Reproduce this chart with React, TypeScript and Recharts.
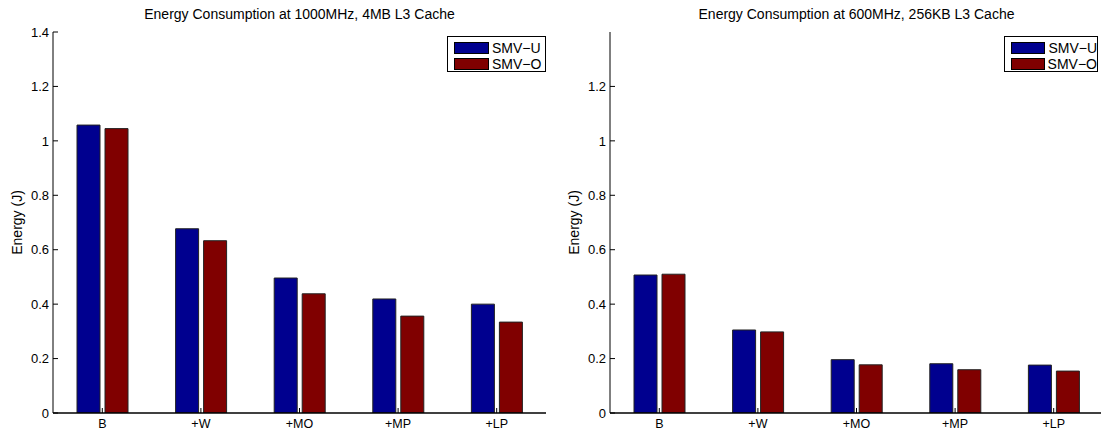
import React from 'react';
import { BarChart, Bar, XAxis, YAxis, Legend } from 'recharts';

const categories = ['B', '+W', '+MO', '+MP', '+LP'];
const seriesNames = ['SMV\u2212U', 'SMV\u2212O'];
const seriesColors = ['#00008F', '#800000'];

const leftTitle = 'Energy Consumption at 1000MHz, 4MB L3 Cache';
const leftSmvU = [1.058, 0.677, 0.496, 0.419, 0.4];
const leftSmvO = [1.045, 0.633, 0.438, 0.356, 0.334];
const leftTicks = [0, 0.2, 0.4, 0.6, 0.8, 1, 1.2, 1.4];

const rightTitle = 'Energy Consumption at 600MHz, 256KB L3 Cache';
const rightSmvU = [0.507, 0.305, 0.196, 0.181, 0.176];
const rightSmvO = [0.51, 0.298, 0.177, 0.159, 0.154];
const rightTicks = [0, 0.2, 0.4, 0.6, 0.8, 1, 1.2];

const yLabel = 'Energy (J)';
const FONT = '"Liberation Sans", Arial, Helvetica, sans-serif';

const buildData = (u: number[], o: number[]) =>
  categories.map((c, i) => ({ name: c, u: u[i], o: o[i] }));

const LeftTick = (props: any) => {
  const { x, y, payload } = props;
  const ax = x + 4;
  return (
    <g>
      <line x1={ax} x2={ax + 5} y1={y} y2={y} stroke="#000" strokeWidth={1} />
      <text x={x} y={y} dy="0.36em" textAnchor="end" fontSize={13} fill="#000" fontFamily={FONT}>
        {String(payload.value)}
      </text>
    </g>
  );
};

const RightTick = (props: any) => {
  const { x, y } = props;
  return <line x1={x - 5} x2={x} y1={y} y2={y} stroke="#000" strokeWidth={1} />;
};

const BottomTick = (props: any) => {
  const { x, y, payload } = props;
  const ay = y - 3;
  return (
    <g>
      <line x1={x} x2={x} y1={ay} y2={ay - 5} stroke="#000" strokeWidth={1} />
      <text x={x} y={y} dy={11.5} textAnchor="middle" fontSize={12.5} fill="#000" fontFamily={FONT}>
        {payload.value}
      </text>
    </g>
  );
};

const TopTick = (props: any) => {
  const { x, y } = props;
  return <line x1={x} x2={x} y1={y} y2={y + 5} stroke="#000" strokeWidth={1} />;
};

const LegendBox = ({ payload, width }: { payload: any[]; width: number }) => {
  const items = [...(payload || [])].sort(
    (a: any, b: any) => seriesNames.indexOf(a.value) - seriesNames.indexOf(b.value)
  );
  return (
    <div
      style={{
        boxSizing: 'border-box',
        width,
        height: 36,
        border: '1px solid #000',
        background: '#fff',
        paddingTop: 3,
        fontFamily: FONT,
      }}
    >
      {items.map((p: any, i: number) => (
        <div key={i} style={{ display: 'flex', alignItems: 'center', height: 16, paddingLeft: 6 }}>
          <div
            style={{
              boxSizing: 'border-box',
              width: 35,
              height: 12,
              background: p.color,
              border: '1px solid #000',
            }}
          />
          <span style={{ marginLeft: 3, fontSize: 14, lineHeight: '16px', color: '#000' }}>{p.value}</span>
        </div>
      ))}
    </div>
  );
};

type PanelProps = {
  title: string;
  u: number[];
  o: number[];
  ticks: number[];
  left: number;
  yAxisWidth: number;
  marginRight: number;
  legendLeft: number;
  legendWidth: number;
};

const CHART_W = 560;
const CHART_H = 430;

const Panel = (p: PanelProps) => {
  const data = buildData(p.u, p.o);
  const plotW = CHART_W - p.yAxisWidth - p.marginRight;
  return (
    <div style={{ position: 'absolute', left: p.left, top: 0, width: CHART_W, height: CHART_H }}>
      <div
        style={{
          position: 'absolute',
          left: p.yAxisWidth,
          top: 6,
          width: plotW,
          textAlign: 'center',
          fontSize: 14,
          lineHeight: '17px',
          fontFamily: FONT,
          color: '#000',
          whiteSpace: 'nowrap',
        }}
      >
        {p.title}
      </div>
      <BarChart
        width={CHART_W}
        height={CHART_H}
        data={data}
        margin={{ top: 32, right: p.marginRight, bottom: 0, left: 0 }}
        barGap={5}
        barSize={23}
      >
        <XAxis
          dataKey="name"
          height={17}
          tickSize={0}
          tickMargin={3}
          tickLine={false}
          axisLine={{ stroke: '#000', strokeWidth: 1.5 }}
          tick={<BottomTick />}
          interval={0}
        />
        <XAxis
          xAxisId="top"
          dataKey="name"
          orientation="top"
          height={0}
          tickSize={0}
          tickMargin={0}
          tickLine={false}
          axisLine={{ stroke: '#000', strokeWidth: 1 }}
          tick={<TopTick />}
          interval={0}
        />
        <YAxis
          width={p.yAxisWidth}
          domain={[0, 1.4]}
          ticks={p.ticks}
          type="number"
          allowDataOverflow
          tickSize={0}
          tickMargin={4}
          tickLine={false}
          axisLine={{ stroke: '#000', strokeWidth: 1 }}
          tick={<LeftTick />}
          interval={0}
          label={{
            content: (lp: any) => {
              const vb = lp.viewBox || { x: 0, y: 32, width: p.yAxisWidth, height: 381 };
              const cx = vb.x + vb.width - 36;
              const cy = vb.y + vb.height / 2;
              return (
                <text
                  x={cx}
                  y={cy}
                  transform={`rotate(-90 ${cx} ${cy})`}
                  textAnchor="middle"
                  dominantBaseline="central"
                  fontSize={14}
                  fill="#000"
                  fontFamily={FONT}
                >
                  {yLabel}
                </text>
              );
            },
          }}
        />
        <YAxis
          yAxisId="right"
          orientation="right"
          width={0}
          domain={[0, 1.4]}
          ticks={p.ticks}
          type="number"
          allowDataOverflow
          tickSize={0}
          tickMargin={0}
          tickLine={false}
          axisLine={{ stroke: '#000', strokeWidth: 1 }}
          tick={<RightTick />}
          interval={0}
        />
        <Legend
          layout="horizontal"
          verticalAlign="middle"
          align="center"
          itemSorter={null as any}
          width={p.legendWidth}
          height={36}
          wrapperStyle={{ position: 'absolute', left: p.legendLeft, top: 36, width: p.legendWidth, height: 36 }}
          content={(lp: any) => <LegendBox payload={lp.payload} width={p.legendWidth} />}
        />
        <Bar
          dataKey="u"
          name={seriesNames[0]}
          fill={seriesColors[0]}
          stroke="#222"
          strokeWidth={1}
          isAnimationActive={false}
        />
        <Bar
          dataKey="o"
          name={seriesNames[1]}
          fill={seriesColors[1]}
          stroke="#222"
          strokeWidth={1}
          isAnimationActive={false}
        />
      </BarChart>
    </div>
  );
};

export default function App() {
  return (
    <div
      style={{
        position: 'absolute',
        left: 0,
        top: 0,
        width: 1101,
        height: 430,
        overflow: 'hidden',
        background: '#fff',
        fontFamily: FONT,
      }}
    >
      <Panel
        title={leftTitle}
        u={leftSmvU}
        o={leftSmvO}
        ticks={leftTicks}
        left={0}
        yAxisWidth={53}
        marginRight={14}
        legendLeft={447}
        legendWidth={99}
      />
      <Panel
        title={rightTitle}
        u={rightSmvU}
        o={rightSmvO}
        ticks={rightTicks}
        left={550}
        yAxisWidth={60}
        marginRight={7}
        legendLeft={454}
        legendWidth={94}
      />
    </div>
  );
}
